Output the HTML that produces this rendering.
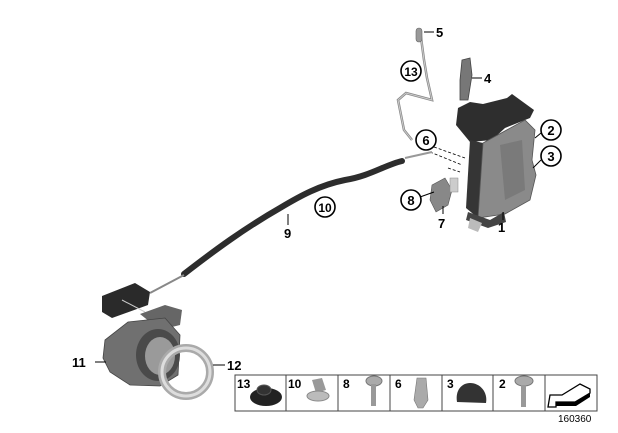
<!DOCTYPE html>
<html><head><meta charset="utf-8"><style>
html,body{margin:0;padding:0;background:#fff;}
svg{display:block;}
text{font-family:"Liberation Sans",Arial,sans-serif;font-weight:bold;fill:#000;}
</style></head><body>
<svg width="618" height="433" viewBox="0 0 618 433">
<!-- rod 5/13 -->
<path d="M420,30 L424,60 L427,78 L432,100 L406,93 L398,100 L404,130 L412,140" fill="none" stroke="#888" stroke-width="2.5"/>
<path d="M420,30 L424,60 L427,78 L432,100 L406,93 L398,100 L404,130 L412,140" fill="none" stroke="#ccc" stroke-width="1"/>
<rect x="416" y="28" width="6" height="14" rx="3" fill="#999" stroke="#666" stroke-width="0.6"/>
<line x1="424" y1="32" x2="434" y2="32" stroke="#000" stroke-width="1"/>
<text x="436" y="37" font-size="13">5</text>
<circle cx="411" cy="71" r="10" fill="#fff" stroke="#000" stroke-width="1.6"/>
<text x="411" y="76" font-size="12" text-anchor="middle">13</text>
<!-- part 4 -->
<path d="M462,60 L470,58 L472,75 L468,100 L460,100 L460,80 Z" fill="#777" stroke="#444" stroke-width="0.8"/>
<line x1="472" y1="78" x2="482" y2="78" stroke="#000"/>
<text x="484" y="83" font-size="13">4</text>
<!-- lock housing top -->
<path d="M458,108 L470,102 L483,104 L507,98 L512,94 L534,110 L530,118 L505,128 L492,140 L470,142 L456,125 Z" fill="#2e2e2e"/>
<path d="M470,140 L483,143 L478,218 L466,208 Z" fill="#353535"/>
<path d="M483,143 L525,120 L535,130 L532,160 L536,175 L530,200 L505,214 L478,218 Z" fill="#8a8a8a" stroke="#555" stroke-width="0.8"/>
<path d="M500,145 L522,140 L525,190 L505,200 Z" fill="#7a7a7a"/>
<path d="M468,212 L490,220 L504,212 L506,222 L488,228 L466,220 Z" fill="#444"/>
<path d="M470,218 L482,223 L478,232 L468,228 Z" fill="#bbb"/>
<!-- labels 2,3 -->
<line x1="535" y1="138" x2="541" y2="133" stroke="#000"/>
<circle cx="551" cy="130" r="10" fill="#fff" stroke="#000" stroke-width="1.6"/>
<text x="551" y="135" font-size="13" text-anchor="middle">2</text>
<line x1="533" y1="168" x2="541" y2="160" stroke="#000"/>
<circle cx="551" cy="156" r="10" fill="#fff" stroke="#000" stroke-width="1.6"/>
<text x="551" y="161" font-size="13" text-anchor="middle">3</text>
<line x1="503" y1="212" x2="503" y2="220" stroke="#000"/>
<text x="498" y="232" font-size="13">1</text>
<!-- 6 -->
<circle cx="426" cy="140" r="10" fill="#fff" stroke="#000" stroke-width="1.6"/>
<text x="426" y="145" font-size="13" text-anchor="middle">6</text>
<path d="M434,147 L465,158 M430,152 L462,165 M448,168 L460,172" stroke="#000" stroke-width="0.8" stroke-dasharray="3,2" fill="none"/>
<!-- part 8/7 -->
<path d="M432,185 L445,178 L452,190 L448,205 L436,212 L430,200 Z" fill="#888" stroke="#555" stroke-width="0.6"/>
<rect x="450" y="178" width="8" height="14" fill="#ccc" stroke="#888" stroke-width="0.5"/>
<line x1="420" y1="197" x2="434" y2="192" stroke="#000"/>
<circle cx="411" cy="200" r="10" fill="#fff" stroke="#000" stroke-width="1.6"/>
<text x="411" y="205" font-size="13" text-anchor="middle">8</text>
<line x1="443" y1="206" x2="443" y2="214" stroke="#000"/>
<text x="438" y="228" font-size="13">7</text>
<!-- cable -->
<path d="M405,158 L432,152" stroke="#999" stroke-width="2"/>
<path d="M184,274 C215,250 245,228 280,208 C300,196 320,185 345,180 C370,176 385,165 402,161" fill="none" stroke="#2d2d2d" stroke-width="6" stroke-linecap="round"/>
<path d="M184,275 L150,293" stroke="#888" stroke-width="2"/>
<line x1="288" y1="214" x2="288" y2="225" stroke="#000"/>
<text x="284" y="238" font-size="13">9</text>
<circle cx="325" cy="207" r="10" fill="#fff" stroke="#000" stroke-width="1.6"/>
<text x="325" y="212" font-size="12" text-anchor="middle">10</text>
<!-- handle parts -->
<path d="M102,296 L135,283 L150,292 L148,305 L112,318 L102,312 Z" fill="#2a2a2a"/>
<path d="M122,300 L145,312" stroke="#ccc" stroke-width="1"/>
<path d="M140,314 L165,305 L182,310 L180,325 L160,330 Z" fill="#666"/>
<path d="M105,340 L128,322 L165,318 L180,335 L178,375 L160,386 L130,385 L110,372 L103,358 Z" fill="#707070" stroke="#444" stroke-width="0.8"/>
<ellipse cx="158" cy="355" rx="22" ry="26" fill="#4a4a4a"/>
<ellipse cx="160" cy="356" rx="15" ry="19" fill="#9a9a9a"/>
<line x1="95" y1="362" x2="106" y2="362" stroke="#000"/>
<text x="72" y="367" font-size="13">11</text>
<ellipse cx="186" cy="372" rx="24" ry="24" fill="none" stroke="#aaa" stroke-width="8"/>
<ellipse cx="186" cy="372" rx="24" ry="24" fill="none" stroke="#ddd" stroke-width="3"/>
<line x1="213" y1="365" x2="225" y2="365" stroke="#000"/>
<text x="227" y="370" font-size="13">12</text>
<!-- legend -->
<rect x="235" y="375" width="362" height="36" fill="#fff" stroke="#444" stroke-width="1"/>
<line x1="286" y1="375" x2="286" y2="411" stroke="#444"/>
<line x1="338" y1="375" x2="338" y2="411" stroke="#444"/>
<line x1="390" y1="375" x2="390" y2="411" stroke="#444"/>
<line x1="442" y1="375" x2="442" y2="411" stroke="#444"/>
<line x1="493" y1="375" x2="493" y2="411" stroke="#444"/>
<line x1="545" y1="375" x2="545" y2="411" stroke="#444"/>
<text x="237" y="388" font-size="12">13</text>
<ellipse cx="266" cy="397" rx="16" ry="9" fill="#222"/>
<ellipse cx="264" cy="390" rx="7" ry="5" fill="#333" stroke="#555"/>
<text x="288" y="388" font-size="12">10</text>
<path d="M312,380 L322,378 L326,390 L316,393 Z" fill="#999"/>
<ellipse cx="318" cy="396" rx="11" ry="5" fill="#bbb" stroke="#888"/>
<text x="343" y="388" font-size="12">8</text>
<ellipse cx="374" cy="381" rx="8" ry="5" fill="#aaa" stroke="#777"/>
<rect x="371" y="384" width="5" height="22" fill="#999"/>
<text x="395" y="388" font-size="12">6</text>
<path d="M417,378 L426,378 L428,400 L423,408 L418,408 L414,400 Z" fill="#aaa" stroke="#777" stroke-width="0.6"/>
<text x="447" y="388" font-size="12">3</text>
<path d="M457,402 C455,390 462,383 470,383 C480,383 488,392 486,403 Z" fill="#333"/>
<text x="499" y="388" font-size="12">2</text>
<ellipse cx="524" cy="381" rx="9" ry="5" fill="#aaa" stroke="#777"/>
<rect x="521" y="385" width="5" height="22" fill="#999"/>
<path d="M550,395 L562,395 L580,384 L590,389 L590,393 L575,402 L556,402 L556,407 L548,407 Z" fill="#fff" stroke="#000" stroke-width="1.3"/>
<path d="M556,402 L575,402 L590,393 L590,397 L576,406 L556,406 Z" fill="#000"/>
<text x="558" y="422" font-size="10" style="font-weight:normal">160360</text>
</svg>
</body></html>
